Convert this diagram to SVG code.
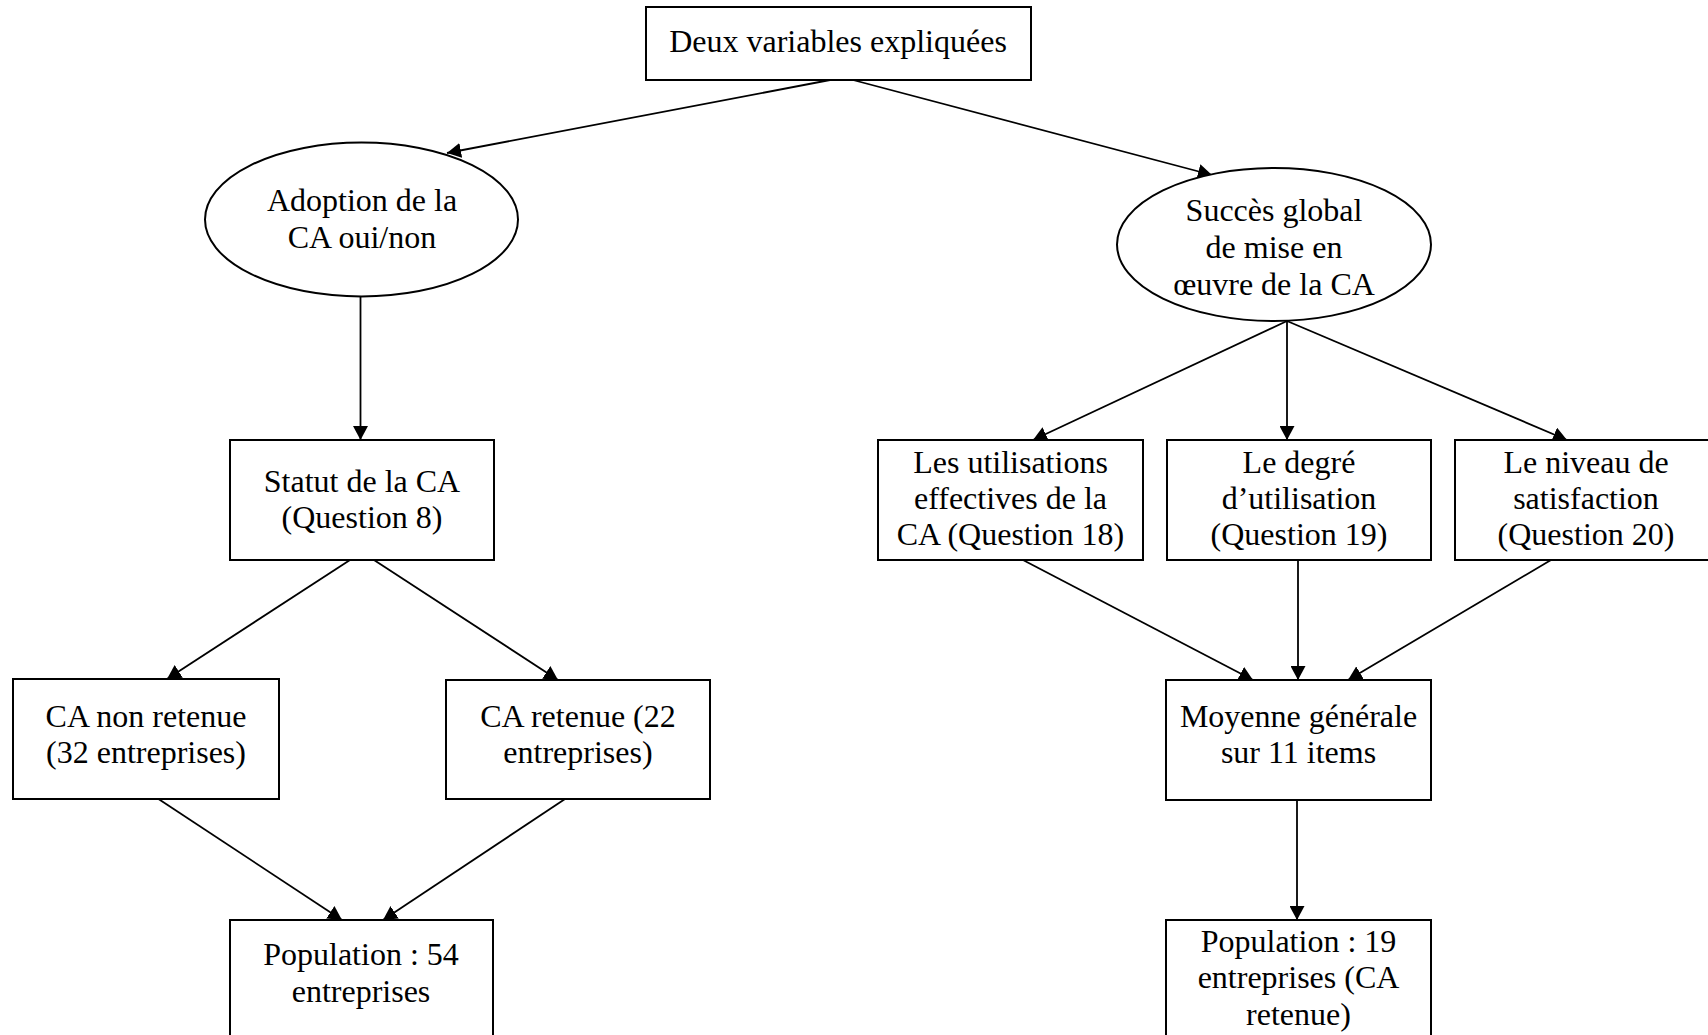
<svg xmlns="http://www.w3.org/2000/svg" width="1708" height="1035" viewBox="0 0 1708 1035">
  <style>
    .box { fill: #ffffff; stroke: #000000; stroke-width: 2; }
    .lbl { font-family: "Liberation Serif", "Times New Roman", serif; font-size: 32px; fill: #000000; text-anchor: middle; }
    .edge { fill: none; stroke: #000000; stroke-width: 1.8; marker-end: url(#arrow); }
  </style>
  <defs>
    <marker id="arrow" viewBox="0 0 14 15" refX="14" refY="7.5" markerWidth="14" markerHeight="15" markerUnits="userSpaceOnUse" orient="auto">
      <path d="M0,0 L14,7.5 L0,15 Z" fill="#000000"/>
    </marker>
  </defs>
  <rect x="0" y="0" width="1708" height="1035" fill="#ffffff"/>

  <!-- connectors -->
  <g id="connectors">
    <line class="edge" x1="830" y1="80" x2="447" y2="153"/>
    <line class="edge" x1="853" y1="80" x2="1212" y2="175"/>
    <line class="edge" x1="360.5" y1="297" x2="360.5" y2="440"/>
    <line class="edge" x1="350" y1="560" x2="167" y2="679"/>
    <line class="edge" x1="374" y1="560" x2="558" y2="680"/>
    <line class="edge" x1="157" y1="798" x2="342" y2="920"/>
    <line class="edge" x1="565" y1="799" x2="383" y2="920"/>
    <line class="edge" x1="1287" y1="321" x2="1033" y2="440"/>
    <line class="edge" x1="1287" y1="321" x2="1287" y2="440"/>
    <line class="edge" x1="1287" y1="321" x2="1567" y2="440"/>
    <line class="edge" x1="1023" y1="560" x2="1253" y2="680"/>
    <line class="edge" x1="1298" y1="560" x2="1298" y2="680"/>
    <line class="edge" x1="1551" y1="560" x2="1348" y2="680"/>
    <line class="edge" x1="1297" y1="800" x2="1297" y2="920"/>
  </g>

  <g id="n-deux-variables">
    <rect class="box" x="646" y="7" width="385" height="73"/>
    <text class="lbl" x="838" y="52">Deux variables expliquées</text>
  </g>

  <g id="n-adoption">
    <ellipse class="box" cx="361.5" cy="219.5" rx="156.5" ry="77"/>
    <text class="lbl" x="362" y="211">Adoption de la</text>
    <text class="lbl" x="362" y="248">CA oui/non</text>
  </g>

  <g id="n-succes">
    <ellipse class="box" cx="1274" cy="244.5" rx="157" ry="76.5"/>
    <text class="lbl" x="1274" y="221">Succès global</text>
    <text class="lbl" x="1274" y="258">de mise en</text>
    <text class="lbl" x="1274" y="295">œuvre de la CA</text>
  </g>

  <g id="n-statut">
    <rect class="box" x="230" y="440" width="264" height="120"/>
    <text class="lbl" x="362" y="492">Statut de la CA</text>
    <text class="lbl" x="362" y="528">(Question 8)</text>
  </g>

  <g id="n-utilisations">
    <rect class="box" x="878" y="440" width="265" height="120"/>
    <text class="lbl" x="1010.5" y="473">Les utilisations</text>
    <text class="lbl" x="1010.5" y="509">effectives de la</text>
    <text class="lbl" x="1010.5" y="545">CA (Question 18)</text>
  </g>

  <g id="n-degre">
    <rect class="box" x="1167" y="440" width="264" height="120"/>
    <text class="lbl" x="1299" y="473">Le degré</text>
    <text class="lbl" x="1299" y="509">d’utilisation</text>
    <text class="lbl" x="1299" y="545">(Question 19)</text>
  </g>

  <g id="n-satisfaction">
    <rect class="box" x="1455" y="440" width="264" height="120"/>
    <text class="lbl" x="1586" y="473">Le niveau de</text>
    <text class="lbl" x="1586" y="509">satisfaction</text>
    <text class="lbl" x="1586" y="545">(Question 20)</text>
  </g>

  <g id="n-non-retenue">
    <rect class="box" x="13" y="679" width="266" height="120"/>
    <text class="lbl" x="146" y="727">CA non retenue</text>
    <text class="lbl" x="146" y="763">(32 entreprises)</text>
  </g>

  <g id="n-retenue">
    <rect class="box" x="446" y="680" width="264" height="119"/>
    <text class="lbl" x="578" y="727">CA retenue (22</text>
    <text class="lbl" x="578" y="763">entreprises)</text>
  </g>

  <g id="n-moyenne">
    <rect class="box" x="1166" y="680" width="265" height="120"/>
    <text class="lbl" x="1298.5" y="727">Moyenne générale</text>
    <text class="lbl" x="1298.5" y="763">sur 11 items</text>
  </g>

  <g id="n-population-54">
    <rect class="box" x="230" y="920" width="263" height="130"/>
    <text class="lbl" x="361" y="965">Population : 54</text>
    <text class="lbl" x="361" y="1002">entreprises</text>
  </g>

  <g id="n-population-19">
    <rect class="box" x="1166" y="920" width="265" height="130"/>
    <text class="lbl" x="1298.5" y="952">Population : 19</text>
    <text class="lbl" x="1298.5" y="988">entreprises (CA</text>
    <text class="lbl" x="1298.5" y="1025">retenue)</text>
  </g>
</svg>
